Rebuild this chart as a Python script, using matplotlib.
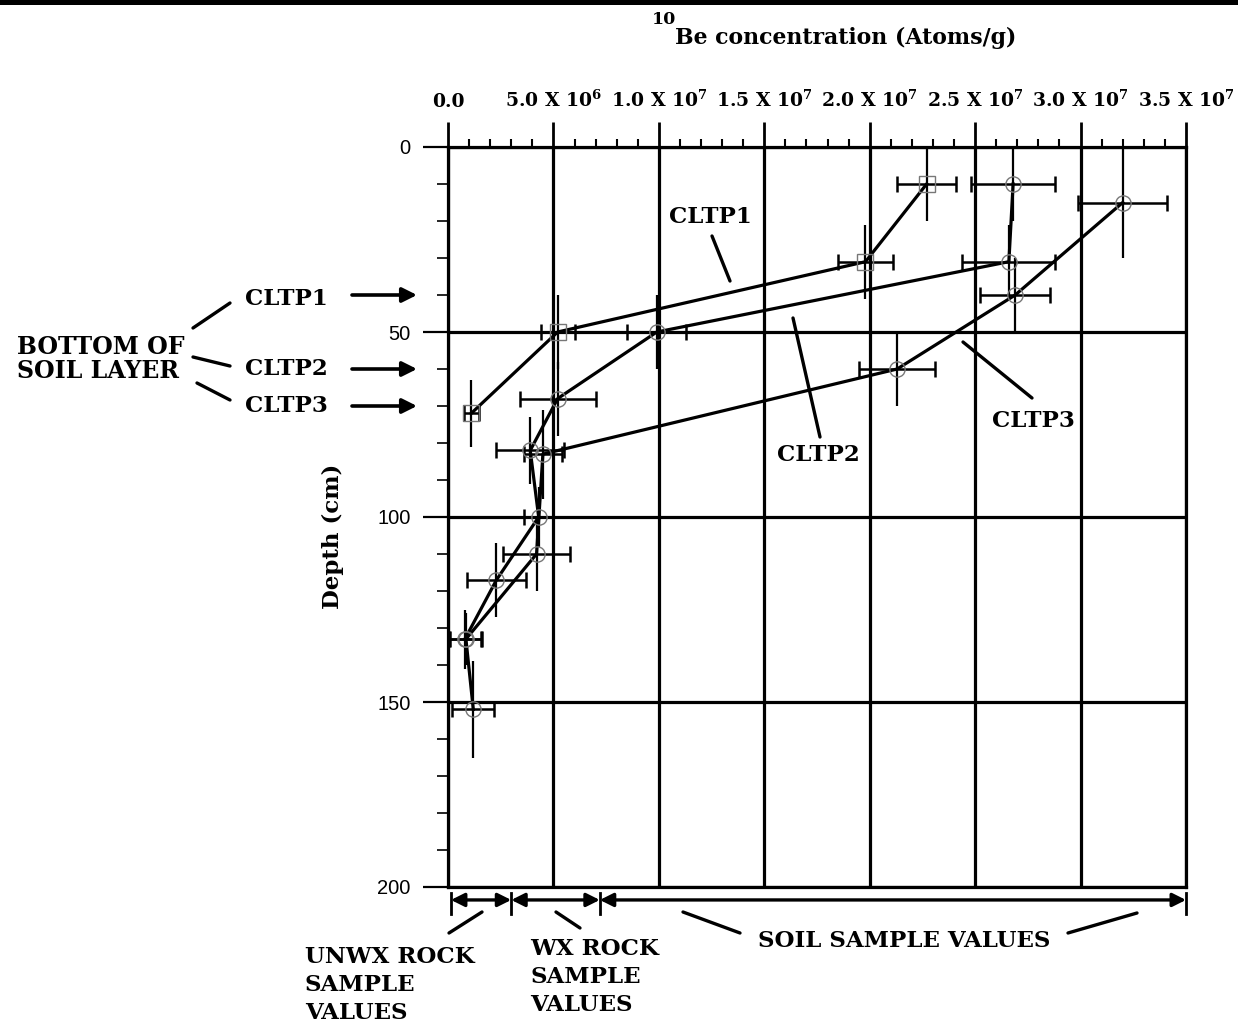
import matplotlib
matplotlib.use("Agg")
import matplotlib.pyplot as plt
from matplotlib.ticker import MultipleLocator
from matplotlib.patches import Rectangle

# ---------------- data ----------------
cltp1_conc = [2.27e7, 1.98e7, 5.2e6, 1.1e6]
cltp1_depth = [10, 31, 50, 72]
cltp1_xerr = [1.4e6, 1.3e6, 0.8e6, 0.35e6]
cltp1_yerr = [10, 10, 10, 9]

cltp2_conc = [2.68e7, 2.66e7, 9.9e6, 5.2e6, 3.9e6, 4.3e6, 2.3e6, 0.8e6]
cltp2_depth = [10, 31, 50, 68, 82, 100, 117, 133]
cltp2_xerr = [2.0e6, 2.2e6, 1.4e6, 1.8e6, 1.6e6, 0.7e6, 1.4e6, 0.75e6]
cltp2_yerr = [10, 10, 10, 10, 9, 8, 10, 8]

cltp3_conc = [3.2e7, 2.69e7, 2.13e7, 4.5e6, 4.2e6, 0.85e6, 1.2e6]
cltp3_depth = [15, 40, 60, 83, 110, 133, 152]
cltp3_xerr = [2.1e6, 1.66e6, 1.8e6, 0.9e6, 1.6e6, 0.75e6, 1.0e6]
cltp3_yerr = [15, 10, 10, 12, 10, 7, 13]

x_ticks = [0, 5e6, 1e7, 1.5e7, 2e7, 2.5e7, 3e7, 3.5e7]
x_ticklabels = ["0.0", r"5.0 X 10$^{6}$", r"1.0 X 10$^{7}$", r"1.5 X 10$^{7}$",
                r"2.0 X 10$^{7}$", r"2.5 X 10$^{7}$", r"3.0 X 10$^{7}$", r"3.5 X 10$^{7}$"]
y_ticks = [0, 50, 100, 150, 200]
soil_bottom_depths = {"CLTP1": 40, "CLTP2": 60, "CLTP3": 70}
range_edges = [0.14e6, 3.0e6, 7.2e6, 3.5e7]   # unwx rock | wx rock | soil

# ---------------- style ----------------
SERIF = "DejaVu Serif"
plt.rcParams.update({
    "mathtext.fontset": "custom",
    "mathtext.rm": "DejaVu Serif:bold",
    "mathtext.default": "rm",
})

W, H = 1238, 1028
fig = plt.figure(figsize=(W / 100, H / 100), dpi=100)
ax = fig.add_axes([448 / W, 1 - 887 / H, (1186 - 448) / W, (887 - 147) / H])

LW = 2.3
for conc, depth, xe, ye, mk in [
    (cltp1_conc, cltp1_depth, cltp1_xerr, cltp1_yerr, "s"),
    (cltp2_conc, cltp2_depth, cltp2_xerr, cltp2_yerr, "o"),
    (cltp3_conc, cltp3_depth, cltp3_xerr, cltp3_yerr, "o"),
]:
    ax.errorbar(conc, depth, yerr=ye, fmt="none", ecolor="black",
                elinewidth=1.6, capsize=0, zorder=3)
    ax.errorbar(conc, depth, xerr=xe, fmt="none", ecolor="black",
                elinewidth=1.8, capsize=6, capthick=1.8, zorder=3)
    ax.plot(conc, depth, color="black", lw=LW, zorder=4)
    ax.plot(conc, depth, ls="none", marker=mk, ms=11, mfc="none",
            mec="#777777", mew=1.0, zorder=5)

ax.set_xlim(0, 3.5e7)
ax.set_ylim(200, 0)

ax.xaxis.tick_top()
ax.set_xticks(x_ticks)
ax.set_xticklabels(x_ticklabels)
ax.xaxis.set_minor_locator(MultipleLocator(1e6))
ax.set_yticks(y_ticks)
ax.yaxis.set_minor_locator(MultipleLocator(10))

for lab in ax.get_xticklabels():
    lab.set_fontfamily(SERIF)
    lab.set_fontweight("bold")
    lab.set_fontsize(13.5)
for lab in ax.get_yticklabels():
    lab.set_fontfamily("Liberation Sans")
    lab.set_fontsize(14.5)

ax.tick_params(axis="x", which="major", direction="out", length=18, width=2.0, pad=8)
ax.tick_params(axis="x", which="minor", direction="out", length=6, width=1.5)
ax.tick_params(axis="y", which="major", direction="out", length=18, width=1.6, pad=9)
ax.tick_params(axis="y", which="minor", direction="out", length=8, width=1.2)

ax.grid(True, which="major", color="black", lw=LW)
ax.set_axisbelow(True)
for s in ax.spines.values():
    s.set_linewidth(LW)

# ---------------- texts ----------------
def fpx(x, y):
    return (x, H - y)

bold = dict(fontfamily=SERIF, fontweight="bold", color="black")

fig.text(846 / W, 1 - 38 / H, "Be concentration (Atoms/g)", ha="center", va="center",
         fontsize=15.8, **bold)
fig.text(664 / W, 1 - 19 / H, "10", ha="center", va="center", fontsize=12.5, **bold)
fig.text(333 / W, 1 - 536 / H, "Depth (cm)", ha="center", va="center", rotation=90,
         fontsize=16.5, **bold)

# left "bottom of soil layer" annotations
fig.text(17 / W, 1 - 359 / H, "BOTTOM OF\nSOIL LAYER", ha="left", va="center",
         fontsize=17, linespacing=1.05, **bold)

label_y = {"CLTP1": 299, "CLTP2": 369, "CLTP3": 406}
for name, d in soil_bottom_depths.items():
    fig.text(245 / W, 1 - label_y[name] / H, name, ha="left", va="center", fontsize=16.5, **bold)
    ypix = 147 + d * 3.7
    ax.annotate("", xy=fpx(417, ypix), xytext=fpx(352, ypix),
                xycoords="figure pixels", textcoords="figure pixels",
                arrowprops=dict(arrowstyle="-|>", lw=2.6, color="black",
                                mutation_scale=22, shrinkA=0, shrinkB=0))

def leader(p1, p2, lw=2.4):
    ax.annotate("", xy=fpx(*p2), xytext=fpx(*p1),
                xycoords="figure pixels", textcoords="figure pixels",
                annotation_clip=False,
                arrowprops=dict(arrowstyle="-", lw=lw, color="black",
                                shrinkA=0, shrinkB=0))

leader((193, 328), (230, 303))
leader((193, 357), (230, 366))
leader((197, 383), (230, 400))

# labels inside the plot
fig.text(710 / W, 1 - 217 / H, "CLTP1", ha="center", va="center", fontsize=16.5, **bold)
leader((712, 236), (730, 281))
fig.text(818 / W, 1 - 455 / H, "CLTP2", ha="center", va="center", fontsize=16.5, **bold)
leader((793, 318), (820, 437))
fig.text(1033 / W, 1 - 421 / H, "CLTP3", ha="center", va="center", fontsize=16.5, **bold)
leader((963, 342), (1032, 398))

# bottom range arrows
y_arrow = 203.5
for a, b in zip(range_edges[:-1], range_edges[1:]):
    ax.annotate("", xy=(b, y_arrow), xytext=(a, y_arrow), xycoords="data",
                annotation_clip=False,
                arrowprops=dict(arrowstyle="<|-|>", lw=2.4, color="black",
                                mutation_scale=20, shrinkA=0, shrinkB=0))
for e in range_edges:
    ax.plot([e, e], [201.5, 207.3], color="black", lw=2.0, clip_on=False)

fig.text(305 / W, 1 - 985 / H, "UNWX ROCK\nSAMPLE\nVALUES", ha="left", va="center",
         fontsize=16.5, linespacing=1.38, **bold)
leader((449, 933), (482, 912))
fig.text(530 / W, 1 - 977 / H, "WX ROCK\nSAMPLE\nVALUES", ha="left", va="center",
         fontsize=16.5, linespacing=1.38, **bold)
leader((556, 912), (580, 928))
fig.text(904 / W, 1 - 941 / H, "SOIL SAMPLE VALUES", ha="center", va="center",
         fontsize=16.5, **bold)
leader((683, 912), (740, 933))
leader((1068, 933), (1137, 913))

# scan border at the very top
fig.add_artist(Rectangle((0, 1 - 5 / H), 1, 5 / H, transform=fig.transFigure,
                         color="black", lw=0))

fig.savefig("out.png", dpi=100)
